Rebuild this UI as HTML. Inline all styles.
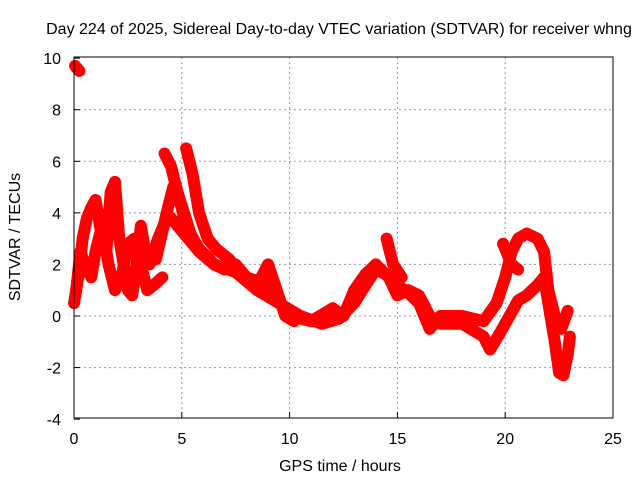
<!DOCTYPE html>
<html><head><meta charset="utf-8"><style>
body{margin:0;background:#fff;font-family:"Liberation Sans",sans-serif}
text{font-family:"Liberation Sans",sans-serif;font-size:16px;fill:#000}
</style></head><body>
<svg id="chart" width="640" height="480" xmlns="http://www.w3.org/2000/svg">
<rect width="640" height="480" fill="#fff"/>
<text x="339" y="34" text-anchor="middle">Day 224 of 2025, Sidereal Day-to-day VTEC variation (SDTVAR) for receiver whng</text>
<text x="340" y="471" text-anchor="middle">GPS time / hours</text>
<text transform="translate(20,237) rotate(-90)" text-anchor="middle">SDTVAR / TECUs</text>
<g id="grid"></g><g id="ticks"></g><g id="series"></g>
<rect x="74" y="57" width="539" height="361" fill="none" stroke="#000" stroke-width="1"/>
</svg>
<script>
const xTicks=[0,5,10,15,20,25];
const yTicks=[-4,-2,0,2,4,6,8,10];
const track1=[[0,0.5],[0.2,1.5],[0.4,3],[0.6,3.8],[0.8,4.2],[1,4.5],[1.2,3.5],[1.5,2.5],[1.7,4.8],[1.9,5.2],[2.1,3],[2.3,2],[2.5,1],[2.7,0.8],[2.9,2],[3.1,3.5],[3.3,2.5],[3.5,2],[3.7,2.5],[3.9,3],[4.2,3.6],[4.5,3.8],[4.9,3.4],[5.3,3],[5.8,2.5],[6.5,2],[7.5,1.7],[8.5,1],[9.5,0.5],[10.5,0],[11.5,-0.3],[12.3,-0.1],[13,0.5],[13.6,1.3],[14,1.8],[14.5,1.6],[15,1.2],[15.5,0.9],[16,0.5],[16.5,-0.5],[17,0],[18,0],[19,-0.2],[19.6,0.5],[20,1.5],[20.3,2.5],[20.6,3],[21,3.2],[21.5,3],[21.8,2.5],[22,1],[22.3,0],[22.6,-0.5],[22.9,0.2]];
const track2=[[0.1,1],[0.3,2.5],[0.5,2],[0.8,1.5],[1,2.5],[1.3,3.5],[1.6,2],[1.9,1],[2.2,1.5],[2.5,2.8],[2.8,3],[3.1,2],[3.4,1],[3.7,1.2],[4.1,1.5]];
const track3=[[3.8,2.2],[4.3,4],[4.6,5],[4.9,4.5],[5.2,3.5],[5.6,2.8],[6,2.4],[6.5,2],[7,1.8],[7.5,2],[8,1.5],[9,1.2],[10,0],[11,-0.2],[12,0.3],[12.5,0],[13,1],[13.5,1.6],[14,2],[14.6,1.5],[15,0.8],[15.5,1],[16,0.8],[16.5,0],[17,-0.3],[18,-0.3],[19,-0.8],[19.3,-1.3],[19.8,-0.6],[20.2,0],[20.6,0.6],[21,0.8],[21.5,1.2],[21.8,1.5],[22,0.5],[22.3,-1],[22.5,-2.2],[22.7,-2.3],[22.9,-1.5],[23,-0.8]];
const track4=[[4.2,6.3],[4.5,5.8],[4.8,4.8],[5.1,4],[5.4,3.2],[5.8,2.6],[6.3,2.2]];
const track5=[[5.2,6.5],[5.5,5.5],[5.8,4],[6.2,3],[6.6,2.6],[7.2,2.2],[7.8,1.5],[8.5,1.2],[9,2],[9.4,1],[9.8,0],[10.2,-0.2]];
const track6=[[14.5,3],[14.8,2],[15.2,1.5]];
const track7=[[19.9,2.8],[20.3,2],[20.6,1.8]];
const track8=[[0.05,9.7],[0.25,9.5]];
const allTracks=[track1,track2,track3,track4,track5,track6,track7,track8];
const X=h=>74+h*539/25, Y=v=>316-v*361/14;
const NS="http://www.w3.org/2000/svg";
const grid=document.getElementById('grid'),ticks=document.getElementById('ticks'),ser=document.getElementById('series');
function mk(tag,attrs,parent){const e=document.createElementNS(NS,tag);for(const k in attrs)e.setAttribute(k,attrs[k]);parent.appendChild(e);return e;}
xTicks.forEach(t=>{
  if(t>0&&t<25){const g=mk('line',{x1:X(t),x2:X(t),y1:57,y2:418,stroke:'#999','stroke-dasharray':'2,3'},grid);
  
  }
  const tk=mk('line',{x1:X(t),x2:X(t),y1:418,y2:412,stroke:'#000'},ticks);
  
  
  const l=mk('text',{x:X(t),y:444,'text-anchor':'middle'},ticks);l.textContent=t;
  
  
});
yTicks.forEach(t=>{
  if(t>-4&&t<10){const g=mk('line',{x1:74,x2:613,y1:Y(t),y2:Y(t),stroke:'#999','stroke-dasharray':'2,3'},grid);
  
  }
  const tk=mk('line',{x1:74,x2:80,y1:Y(t),y2:Y(t),stroke:'#000'},ticks);
  
  
  const l=mk('text',{x:61,y:Y(t)+6,'text-anchor':'end'},ticks);l.textContent=t;
  
  
});
allTracks.forEach(tr=>{
  const p=mk('polyline',{points:tr.map(d=>X(d[0])+','+Y(d[1])).join(' '),fill:'none',stroke:'#f00','stroke-width':12,'stroke-linejoin':'round','stroke-linecap':'round'},ser);
  
  
});
</script>
</body></html>
